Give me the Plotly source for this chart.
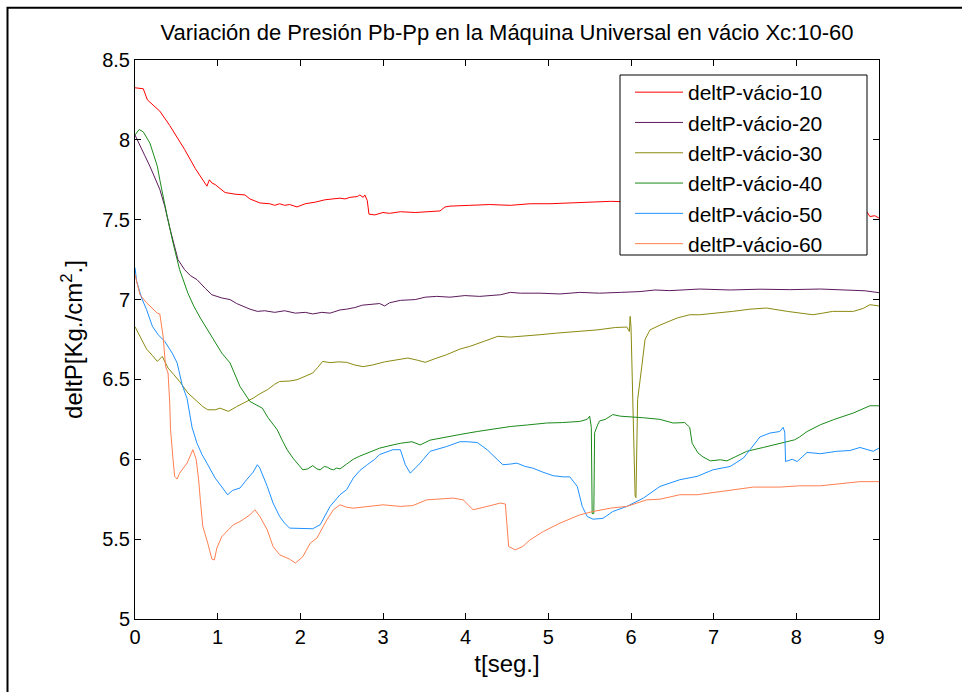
import plotly.graph_objects as go

# ---------------- data ----------------
t10 = [0.00, 0.10, 0.15, 0.21, 0.30, 0.42, 0.60, 0.73, 0.85, 0.87, 0.90, 0.93, 0.97, 1.09, 1.21, 1.33,
       1.39, 1.51, 1.63, 1.69, 1.75, 1.81, 1.87, 1.96, 2.06, 2.18, 2.30, 2.42, 2.48, 2.54, 2.60, 2.69,
       2.72, 2.76, 2.78, 2.81, 2.83, 2.90, 3.00, 3.08, 3.21, 3.39, 3.57, 3.69, 3.75, 3.81, 4.05, 4.29,
       4.54, 4.78, 5.02, 5.26, 5.50, 5.75, 6.11, 6.83, 7.56, 8.29, 8.77, 8.84, 8.89, 8.95, 9.00]
p10 = [8.326, 8.32, 8.25, 8.22, 8.18, 8.09, 7.94, 7.82, 7.73, 7.71, 7.75, 7.73, 7.72, 7.67, 7.66, 7.655,
       7.63, 7.605, 7.60, 7.59, 7.60, 7.59, 7.595, 7.58, 7.60, 7.61, 7.625, 7.63, 7.635, 7.63, 7.64, 7.645,
       7.655, 7.64, 7.655, 7.62, 7.535, 7.53, 7.545, 7.54, 7.55, 7.545, 7.55, 7.555, 7.58, 7.585, 7.59, 7.595,
       7.59, 7.60, 7.60, 7.605, 7.61, 7.615, 7.61, 7.61, 7.615, 7.61, 7.60, 7.56, 7.52, 7.525, 7.51]

t20 = [0.00, 0.06, 0.12, 0.18, 0.24, 0.30, 0.36, 0.42, 0.52, 0.60, 0.67, 0.75, 0.85, 0.93, 1.05, 1.15,
       1.23, 1.31, 1.39, 1.48, 1.57, 1.69, 1.81, 1.94, 2.06, 2.15, 2.26, 2.36, 2.48, 2.56, 2.66, 2.75,
       2.84, 2.96, 3.02, 3.08, 3.21, 3.39, 3.51, 3.65, 3.81, 3.99, 4.17, 4.42, 4.54, 4.66, 4.90, 5.14,
       5.38, 5.62, 5.87, 6.11, 6.29, 6.47, 6.83, 7.20, 7.56, 7.92, 8.29, 8.65, 8.83, 9.00]
p20 = [8.03, 7.96, 7.90, 7.835, 7.76, 7.69, 7.585, 7.45, 7.25, 7.187, 7.15, 7.125, 7.07, 7.03, 7.01, 7.00,
       6.975, 6.957, 6.94, 6.926, 6.93, 6.92, 6.93, 6.915, 6.92, 6.91, 6.92, 6.915, 6.935, 6.94, 6.95, 6.965,
       6.968, 6.975, 6.96, 6.98, 6.995, 7.00, 7.015, 7.02, 7.015, 7.025, 7.02, 7.03, 7.045, 7.04, 7.04, 7.035,
       7.045, 7.04, 7.045, 7.05, 7.06, 7.056, 7.066, 7.06, 7.065, 7.062, 7.066, 7.06, 7.055, 7.043]

t30 = [0.00, 0.07, 0.14, 0.21, 0.27, 0.33, 0.40, 0.47, 0.54, 0.64, 0.75, 0.82, 0.88, 0.97, 1.03, 1.13,
       1.23, 1.33, 1.43, 1.51, 1.60, 1.69, 1.75, 1.87, 1.96, 2.06, 2.15, 2.21, 2.27, 2.36, 2.46, 2.56,
       2.66, 2.76, 2.87, 3.02, 3.21, 3.30, 3.42, 3.51, 3.63, 3.77, 3.93, 4.05, 4.23, 4.39, 4.54, 4.69,
       4.90, 5.10, 5.32, 5.59, 5.81, 5.95, 5.98, 5.99, 6.00, 6.03, 6.05, 6.06, 6.07, 6.08, 6.13, 6.17,
       6.23, 6.35, 6.56, 6.71, 6.83, 7.04, 7.23, 7.44, 7.64, 7.89, 8.04, 8.20, 8.32, 8.44, 8.69, 8.81,
       8.89, 9.00]
p30 = [6.83, 6.76, 6.69, 6.65, 6.613, 6.644, 6.571, 6.53, 6.487, 6.415, 6.362, 6.33, 6.31, 6.31, 6.32, 6.30,
       6.33, 6.355, 6.383, 6.41, 6.435, 6.47, 6.487, 6.49, 6.498, 6.52, 6.54, 6.575, 6.613, 6.605, 6.61, 6.607,
       6.59, 6.58, 6.59, 6.61, 6.625, 6.634, 6.62, 6.607, 6.63, 6.655, 6.69, 6.707, 6.74, 6.77, 6.765, 6.77,
       6.78, 6.79, 6.80, 6.81, 6.825, 6.828, 6.80, 6.895, 6.83, 6.166, 5.77, 5.76, 6.17, 6.373, 6.58, 6.75,
       6.81, 6.84, 6.885, 6.905, 6.905, 6.915, 6.926, 6.94, 6.947, 6.926, 6.915, 6.905, 6.915, 6.926, 6.926, 6.945,
       6.968, 6.96]

t40 = [0.00, 0.05, 0.10, 0.18, 0.23, 0.27, 0.30, 0.36, 0.39, 0.46, 0.54, 0.64, 0.71, 0.79, 0.91, 1.05,
       1.15, 1.21, 1.27, 1.39, 1.46, 1.54, 1.61, 1.72, 1.78, 1.84, 1.91, 1.97, 2.03, 2.09, 2.15, 2.20,
       2.24, 2.29, 2.33, 2.36, 2.40, 2.44, 2.48, 2.56, 2.64, 2.72, 2.81, 2.88, 2.96, 3.12, 3.21, 3.35,
       3.45, 3.57, 3.73, 3.93, 4.14, 4.33, 4.54, 4.75, 4.98, 5.17, 5.38, 5.47, 5.50, 5.52, 5.53, 5.55,
       5.56, 5.60, 5.62, 5.69, 5.78, 5.87, 5.95, 6.15, 6.35, 6.51, 6.65, 6.71, 6.74, 6.81, 6.87, 6.96,
       7.08, 7.16, 7.26, 7.40, 7.60, 7.80, 7.98, 8.04, 8.13, 8.29, 8.45, 8.69, 8.89, 9.00]
p40 = [8.03, 8.065, 8.05, 7.98, 7.90, 7.835, 7.75, 7.585, 7.52, 7.355, 7.187, 7.04, 6.96, 6.885, 6.78, 6.665,
       6.603, 6.53, 6.456, 6.362, 6.34, 6.32, 6.26, 6.185, 6.12, 6.06, 6.008, 5.97, 5.934, 5.94, 5.96, 5.94,
       5.934, 5.955, 5.95, 5.94, 5.934, 5.945, 5.94, 5.97, 6.00, 6.02, 6.04, 6.055, 6.07, 6.09, 6.10, 6.11,
       6.09, 6.12, 6.137, 6.155, 6.174, 6.19, 6.205, 6.215, 6.227, 6.23, 6.237, 6.25, 6.27, 6.20, 5.66, 5.66,
       6.166, 6.22, 6.24, 6.25, 6.28, 6.27, 6.268, 6.26, 6.25, 6.227, 6.23, 6.20, 6.10, 6.04, 6.015, 5.99,
       5.997, 5.99, 6.015, 6.05, 6.074, 6.10, 6.122, 6.14, 6.174, 6.216, 6.248, 6.29, 6.335, 6.335]

t50 = [0.00, 0.02, 0.08, 0.14, 0.21, 0.28, 0.36, 0.45, 0.51, 0.57, 0.63, 0.67, 0.69, 0.75, 0.81, 0.87,
       0.97, 1.06, 1.12, 1.18, 1.27, 1.35, 1.43, 1.48, 1.51, 1.60, 1.67, 1.75, 1.81, 1.87, 2.00, 2.15,
       2.24, 2.36, 2.48, 2.56, 2.64, 2.72, 2.81, 2.90, 2.96, 3.12, 3.21, 3.27, 3.33, 3.45, 3.57, 3.77,
       3.93, 4.02, 4.14, 4.26, 4.38, 4.45, 4.54, 4.62, 4.72, 4.81, 4.93, 5.06, 5.18, 5.26, 5.35, 5.41,
       5.47, 5.54, 5.66, 5.78, 5.95, 6.15, 6.35, 6.59, 6.80, 6.99, 7.20, 7.36, 7.44, 7.56, 7.68, 7.80,
       7.84, 7.86, 7.87, 7.95, 8.01, 8.13, 8.29, 8.49, 8.65, 8.77, 8.93, 9.00]
p50 = [7.20, 7.115, 7.01, 6.937, 6.833, 6.78, 6.738, 6.665, 6.603, 6.467, 6.38, 6.25, 6.20, 6.10, 6.03, 5.976,
       5.882, 5.82, 5.778, 5.805, 5.82, 5.872, 5.92, 5.966, 5.945, 5.83, 5.726, 5.642, 5.60, 5.569, 5.565, 5.565,
       5.59, 5.705, 5.778, 5.81, 5.882, 5.93, 5.966, 6.00, 6.03, 6.06, 6.06, 5.966, 5.913, 5.976, 6.05, 6.08,
       6.11, 6.11, 6.105, 6.06, 6.00, 5.966, 5.97, 5.976, 5.955, 5.945, 5.92, 5.897, 5.89, 5.89, 5.83, 5.705,
       5.642, 5.625, 5.63, 5.673, 5.705, 5.757, 5.83, 5.872, 5.893, 5.934, 5.955, 6.008, 6.06, 6.14, 6.164, 6.174,
       6.20, 6.17, 5.986, 6.00, 5.986, 6.043, 6.035, 6.05, 6.055, 6.074, 6.05, 6.07]

t60 = [0.00, 0.06, 0.14, 0.21, 0.27, 0.30, 0.34, 0.37, 0.40, 0.42, 0.43, 0.46, 0.48, 0.51, 0.54, 0.63,
       0.67, 0.70, 0.74, 0.77, 0.79, 0.82, 0.88, 0.93, 0.96, 0.99, 1.05, 1.19, 1.27, 1.39, 1.45, 1.51,
       1.60, 1.67, 1.75, 1.87, 1.94, 2.03, 2.12, 2.20, 2.32, 2.40, 2.48, 2.56, 2.64, 2.81, 3.00, 3.21,
       3.36, 3.53, 3.69, 3.85, 3.97, 4.09, 4.26, 4.42, 4.48, 4.50, 4.52, 4.60, 4.69, 4.78, 4.94, 5.14,
       5.38, 5.54, 5.75, 5.95, 6.19, 6.35, 6.59, 6.80, 6.99, 7.23, 7.48, 7.80, 8.04, 8.29, 8.56, 8.77,
       9.00]
p60 = [7.156, 7.03, 6.98, 6.947, 6.915, 6.91, 6.77, 6.58, 6.54, 6.352, 6.185, 6.00, 5.893, 5.876, 5.913, 5.976,
       6.03, 6.06, 6.00, 5.872, 5.747, 5.58, 5.475, 5.375, 5.37, 5.444, 5.516, 5.59, 5.61, 5.652, 5.684, 5.642,
       5.558, 5.454, 5.402, 5.375, 5.35, 5.39, 5.475, 5.506, 5.62, 5.684, 5.715, 5.70, 5.694, 5.705, 5.715, 5.705,
       5.71, 5.746, 5.75, 5.757, 5.746, 5.684, 5.705, 5.726, 5.72, 5.60, 5.454, 5.433, 5.454, 5.496, 5.548, 5.60,
       5.652, 5.673, 5.694, 5.705, 5.746, 5.75, 5.778, 5.778, 5.792, 5.81, 5.826, 5.826, 5.834, 5.834, 5.85, 5.86,
       5.86]

names = ["deltP-vácio-10", "deltP-vácio-20", "deltP-vácio-30",
         "deltP-vácio-40", "deltP-vácio-50", "deltP-vácio-60"]
colors = ["#ff0000", "#5c1a5c", "#8a8a10", "#1a8a1a", "#1e90ff", "#ff7f50"]

x_ticks = [0, 1, 2, 3, 4, 5, 6, 7, 8, 9]
y_ticks = [5, 5.5, 6, 6.5, 7, 7.5, 8, 8.5]
y_ticktext = ["5", "5.5", "6", "6.5", "7", "7.5", "8", "8.5"]

title_text = "Variación de Presión Pb-Pp en la Máquina Universal en vácio Xc:10-60"

# ---------------- figure ----------------
FONT = "Liberation Sans, Arial, sans-serif"
fig = go.Figure()
series = [(t10, p10), (t20, p20), (t30, p30), (t40, p40), (t50, p50), (t60, p60)]
for (tt, pp), nm, col in zip(series, names, colors):
    fig.add_trace(go.Scatter(x=tt, y=pp, mode="lines", name=nm, legendgroup=nm,
                             line=dict(color=col, width=1)))

W, H = 962, 692
L, R, T, B = 135, 83, 60, 73
pw, ph = W - L - R, H - T - B


def px_x(px):
    return (px - L) / pw


def px_y(py):
    return 1 - (py - T) / ph


fig.update_layout(
    width=W, height=H,
    margin=dict(l=L, r=R, t=T, b=B, pad=0),
    paper_bgcolor="white", plot_bgcolor="white",
    font=dict(family=FONT, size=20, color="black"),
    title=dict(text=title_text, x=0.5, xref="paper", xanchor="center",
               y=1 - 32 / H, yanchor="middle", font=dict(size=22)),
    showlegend=True,
    legend=dict(x=px_x(630), y=px_y(72), xanchor="left", yanchor="top",
                bgcolor="rgba(0,0,0,0)", borderwidth=0,
                font=dict(size=21), tracegroupgap=0, itemwidth=48),
    xaxis=dict(range=[0, 9], tickvals=x_ticks, ticks="inside", ticklen=6, tickcolor="black",
               showline=True, linecolor="black", linewidth=1, mirror="ticks",
               showgrid=False, zeroline=False, title=dict(text="t[seg.]", standoff=8),
               tickfont=dict(size=20)),
    yaxis=dict(range=[5, 8.5], tickvals=y_ticks, ticktext=y_ticktext, ticks="inside", ticklen=6,
               tickcolor="black", showline=True, linecolor="black", linewidth=1, mirror="ticks",
               showgrid=False, zeroline=False,
               title=dict(text="deltP[Kg./cm<sup>2</sup>.]", standoff=12),
               tickfont=dict(size=20)),
    shapes=[
        # outer figure frame
        dict(type="rect", xref="paper", yref="paper",
             x0=px_x(7.5), x1=px_x(975), y0=px_y(705), y1=px_y(7.8),
             line=dict(color="black", width=2), fillcolor="rgba(0,0,0,0)"),
        # legend box
        dict(type="rect", xref="paper", yref="paper", layer="above",
             x0=px_x(620), x1=px_x(867), y0=px_y(255), y1=px_y(75),
             line=dict(color="black", width=1), fillcolor="white"),
    ],
)

fig.write_html("out.html")
